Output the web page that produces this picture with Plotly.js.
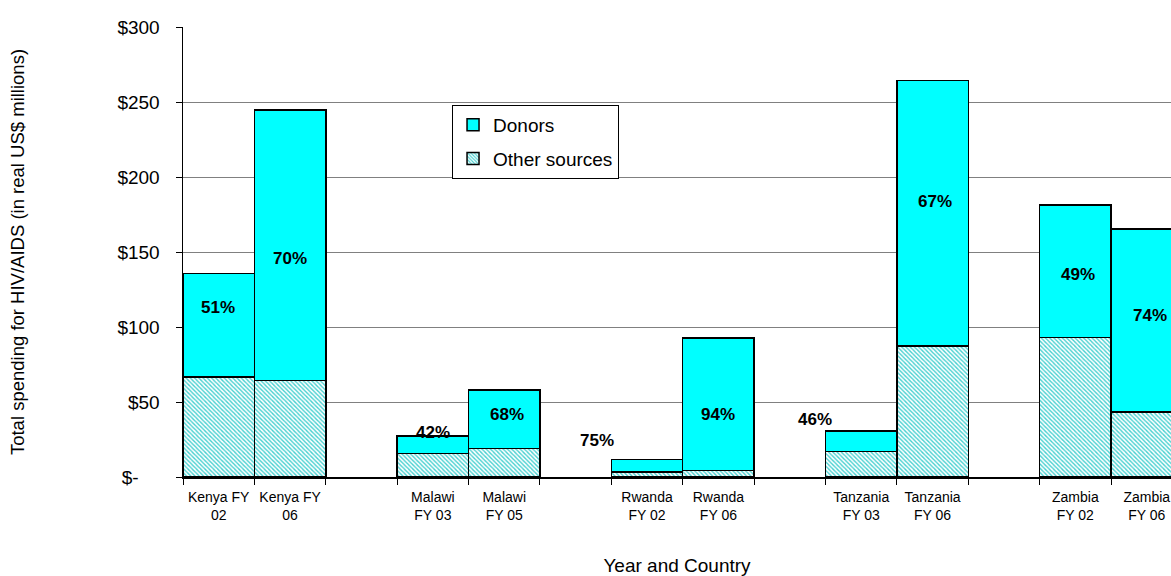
<!DOCTYPE html>
<html>
<head>
<meta charset="utf-8">
<script src="https://cdn.plot.ly/plotly-3.0.1.min.js"></script>
<style>html,body{margin:0;padding:0;background:#fff;}#chart{width:1171px;height:576px;}</style>
</head>
<body>
<div id="chart"></div>
<script>
// ---- data ----
const categories = ["Kenya FY<br>02", "Kenya FY<br>06", "Malawi<br>FY 03", "Malawi<br>FY 05",
  "Rwanda<br>FY 02", "Rwanda<br>FY 06", "Tanzania<br>FY 03", "Tanzania<br>FY 06",
  "Zambia<br>FY 02", "Zambia<br>FY 06"];
const categoryOrder = ["Kenya FY<br>02", "Kenya FY<br>06", " ", "Malawi<br>FY 03", "Malawi<br>FY 05", "  ",
  "Rwanda<br>FY 02", "Rwanda<br>FY 06", "   ", "Tanzania<br>FY 03", "Tanzania<br>FY 06", "    ",
  "Zambia<br>FY 02", "Zambia<br>FY 06"];
const otherSources = [66.7, 64.4, 15.8, 19.0, 3.3, 4.4, 16.9, 87.3, 92.9, 43.3];
const donors = [69.1, 180.3, 11.7, 39.0, 8.5, 88.3, 13.8, 176.9, 88.4, 122.0];
const donorShare = ["51%", "70%", "42%", "68%", "75%", "94%", "46%", "67%", "49%", "74%"];
const yTickVals = [0, 50, 100, 150, 200, 250, 300];
const yTickText = ["$-\u2007\u2007", "$50", "$100", "$150", "$200", "$250", "$300"];

// ---- label styling offsets (px) ----
const labelXShift = [-1, 0, 0, 3, -50, 0, -46, 2, 3, 3];
const labelYShift = [18, -13, 12, 5, 25, -10, 22, 12, -3, 5];

const FONT = "Liberation Sans, Arial, sans-serif";

const traces = [
  {
    type: "bar", name: "Other sources", x: categories, y: otherSources,
    legendgroup: "o", legendrank: 2,
    marker: {color: "#ffffff", line: {color: "#000000", width: 1.5},
      pattern: {shape: "\\", fgcolor: "#45d0d0", bgcolor: "#ffffff", size: 3, solidity: 0.45}},
    hoverinfo: "x+y"
  },
  {
    type: "bar", name: "Donors", x: categories, y: donors,
    legendgroup: "d", legendrank: 1,
    marker: {color: "#00ffff", line: {color: "#000000", width: 1.5}},
    hoverinfo: "x+y"
  }
];

const annotations = categories.map((c, i) => ({
  x: c, y: otherSources[i] + donors[i] / 2, xref: "x", yref: "y",
  text: "<b>" + donorShare[i] + "</b>", showarrow: false,
  xshift: labelXShift[i], yshift: labelYShift[i],
  font: {family: FONT, size: 17, color: "#000000"}
}));

const layout = {
  width: 1171, height: 576,
  margin: {l: 183, r: 0, t: 27, b: 99},
  paper_bgcolor: "#ffffff", plot_bgcolor: "#ffffff",
  barmode: "stack", bargap: 0,
  font: {family: FONT, color: "#000000"},
  showlegend: true,
  legend: {
    x: 0.2723, y: 0.8267, xanchor: "left", yanchor: "top",
    bgcolor: "#ffffff", bordercolor: "#000000", borderwidth: 1,
    font: {family: FONT, size: 19, color: "#000000"},
    traceorder: "grouped", tracegroupgap: 6
  },
  xaxis: {
    type: "category", categoryorder: "array", categoryarray: categoryOrder,
    range: [-0.5, 13.34],
    showline: true, linecolor: "#000000", linewidth: 2,
    ticks: "outside", tickson: "boundaries", ticklen: 6, tickcolor: "#000000",
    showgrid: false, zeroline: false,
    ticklabelstandoff: 6,
    tickfont: {family: FONT, size: 14, color: "#000000"},
    title: {text: "Year and Country", font: {family: FONT, size: 19, color: "#000000"}, standoff: 47}
  },
  yaxis: {
    range: [0, 300], tickvals: yTickVals, ticktext: yTickText,
    showline: true, linecolor: "#000000", linewidth: 1.5,
    ticks: "outside", ticklen: 6, tickcolor: "#000000",
    showgrid: true, gridcolor: "#808080", gridwidth: 1, zeroline: false,
    ticklabelstandoff: 12,
    tickfont: {family: FONT, size: 19, color: "#000000"},
    title: {text: "Total spending for HIV/AIDS (in real US$ millions)", font: {family: FONT, size: 18.5, color: "#000000"}, standoff: 88}
  },
  annotations: annotations
};

Plotly.newPlot("chart", traces, layout, {displayModeBar: false, staticPlot: true});
</script>
</body>
</html>
